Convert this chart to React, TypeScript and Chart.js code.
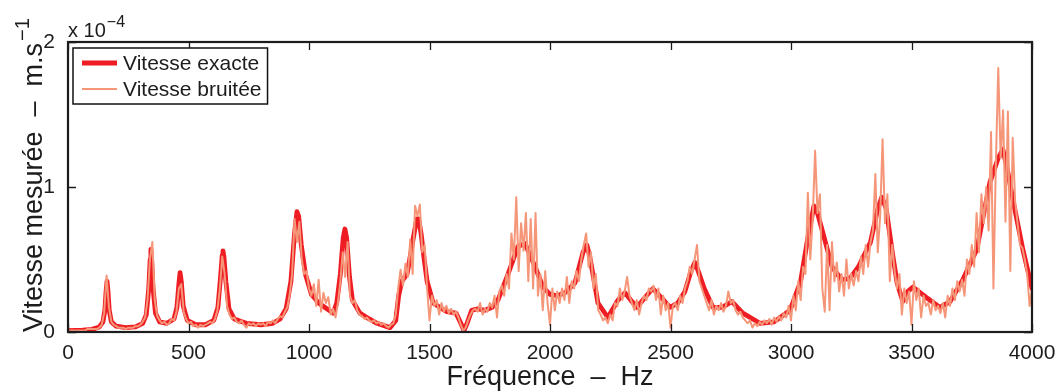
import React, { useEffect, useRef } from "react";
import { Chart, registerables } from "chart.js";

Chart.register(...registerables);

const FONT = "'Liberation Sans', Arial, Helvetica, sans-serif";
const TEXT_COLOR = "#1c1c1c";
const AXIS_COLOR = "#1c1c1c";

// Values are in units of 1e-4 m.s^-1 (axis shows "x 10^-4")
const seriesNames = ["Vitesse exacte", "Vitesse bruitée"];
const seriesColors = ["#EE1D23", "#F69679"];

const exactFreq = [
  0, 60, 100, 130, 145, 153, 158, 162, 166, 171, 180, 200, 240, 280, 310, 325, 335, 341, 344, 347,
  353, 363, 380, 410, 440, 452, 460, 465, 470, 478, 495, 530, 570, 605, 622, 633, 640, 643, 647, 655,
  668, 690, 740, 800, 850, 880, 905, 925, 940, 950, 957, 968, 985, 1010, 1040, 1074, 1100, 1115, 1130, 1142,
  1149, 1156, 1168, 1180, 1211, 1250, 1282, 1336, 1360, 1372, 1385, 1407, 1420, 1432, 1447, 1455, 1465, 1478, 1490, 1515,
  1572, 1610, 1630, 1643, 1656, 1675, 1700, 1730, 1760, 1784, 1826, 1867, 1896, 1920, 1938, 1971, 2000, 2030, 2062, 2104,
  2137, 2153, 2165, 2180, 2199, 2240, 2282, 2311, 2335, 2361, 2400, 2427, 2460, 2498, 2530, 2560, 2585, 2601, 2615, 2640,
  2676, 2715, 2755, 2800, 2871, 2930, 2996, 3040, 3070, 3095, 3110, 3133, 3170, 3210, 3245, 3280, 3330, 3360, 3377, 3395,
  3423, 3440, 3464, 3485, 3506, 3560, 3618, 3660, 3713, 3771, 3825, 3860, 3879, 3900, 3921, 3962, 4000,
];
const exactVel = [
  0.01, 0.012, 0.018, 0.035, 0.07, 0.15, 0.28, 0.35, 0.28, 0.15, 0.07, 0.04, 0.03, 0.035, 0.06, 0.12, 0.3, 0.5, 0.57, 0.5,
  0.3, 0.13, 0.07, 0.06, 0.09, 0.17, 0.33, 0.41, 0.35, 0.18, 0.08, 0.05, 0.05, 0.08, 0.17, 0.38, 0.53, 0.56, 0.52, 0.35,
  0.16, 0.09, 0.06, 0.05, 0.06, 0.09, 0.16, 0.35, 0.68, 0.83, 0.8, 0.6, 0.4, 0.26, 0.2, 0.16, 0.13, 0.2, 0.4, 0.65,
  0.71, 0.65, 0.38, 0.22, 0.13, 0.09, 0.06, 0.03, 0.08, 0.25, 0.35, 0.4, 0.52, 0.64, 0.78, 0.78, 0.68, 0.5, 0.35, 0.2,
  0.14, 0.13, 0.06, 0.01, 0.06, 0.15, 0.16, 0.15, 0.17, 0.22, 0.4, 0.59, 0.61, 0.52, 0.45, 0.31, 0.26, 0.25, 0.27, 0.34,
  0.55, 0.6, 0.52, 0.38, 0.2, 0.1, 0.22, 0.27, 0.22, 0.17, 0.25, 0.3, 0.24, 0.17, 0.2, 0.28, 0.42, 0.48, 0.42, 0.3,
  0.17, 0.17, 0.21, 0.13, 0.06, 0.07, 0.15, 0.35, 0.65, 0.87, 0.82, 0.68, 0.45, 0.36, 0.37, 0.45, 0.62, 0.85, 0.93, 0.85,
  0.52, 0.34, 0.21, 0.28, 0.31, 0.24, 0.17, 0.21, 0.36, 0.57, 1.03, 1.2, 1.26, 1.1, 0.91, 0.57, 0.3,
];

// Noisy measurement sampled every 10 Hz from 0 to 4000 Hz
const noisyStep = 10;
const noisyVel = [
  0.01, 0.01, 0.01, 0.01, 0.01, 0.01, 0.01, 0.01, 0.02, 0.02,
  0.02, 0.02, 0.02, 0.03, 0.05, 0.13, 0.39, 0.17, 0.07, 0.05,
  0.04, 0.03, 0.03, 0.03, 0.02, 0.03, 0.03, 0.03, 0.04, 0.04,
  0.05, 0.07, 0.1, 0.22, 0.5, 0.62, 0.22, 0.11, 0.08, 0.06,
  0.07, 0.05, 0.06, 0.09, 0.08, 0.14, 0.3, 0.33, 0.14, 0.09,
  0.06, 0.07, 0.04, 0.05, 0.03, 0.05, 0.04, 0.05, 0.06, 0.07,
  0.06, 0.09, 0.15, 0.3, 0.52, 0.4, 0.18, 0.12, 0.09, 0.1,
  0.07, 0.06, 0.08, 0.05, 0.03, 0.06, 0.05, 0.06, 0.04, 0.06,
  0.05, 0.06, 0.04, 0.07, 0.06, 0.08, 0.06, 0.09, 0.11, 0.1,
  0.14, 0.17, 0.26, 0.4, 0.78, 0.62, 0.76, 0.5, 0.4, 0.42,
  0.3, 0.25, 0.33, 0.18, 0.36, 0.14, 0.27, 0.2, 0.24, 0.12,
  0.16, 0.1, 0.2, 0.35, 0.55, 0.38, 0.62, 0.25, 0.2, 0.22,
  0.15, 0.12, 0.11, 0.09, 0.1, 0.08, 0.07, 0.08, 0.06, 0.07,
  0.05, 0.06, 0.04, 0.03, 0.05, 0.06, 0.12, 0.3, 0.43, 0.32,
  0.47, 0.38, 0.64, 0.4, 0.87, 0.8, 0.88, 0.55, 0.6, 0.3,
  0.08, 0.25, 0.18, 0.22, 0.12, 0.2, 0.14, 0.18, 0.13, 0.16,
  0.12, 0.14, 0.1, 0.05, 0.01, 0.03, 0.08, 0.12, 0.15, 0.16,
  0.14, 0.2, 0.12, 0.16, 0.14, 0.2, 0.17, 0.25, 0.1, 0.28,
  0.32, 0.25, 0.4, 0.3, 0.68, 0.5, 0.93, 0.42, 0.75, 0.56,
  0.82, 0.35, 0.78, 0.3, 0.82, 0.25, 0.4, 0.15, 0.42, 0.2,
  0.05, 0.3, 0.15, 0.28, 0.2, 0.3, 0.22, 0.38, 0.2, 0.35,
  0.3, 0.42, 0.35, 0.5, 0.6, 0.68, 0.45, 0.55, 0.3, 0.4,
  0.15, 0.12, 0.08, 0.1, 0.06, 0.12, 0.08, 0.2, 0.18, 0.3,
  0.22, 0.28, 0.38, 0.25, 0.2, 0.15, 0.22, 0.12, 0.2, 0.25,
  0.22, 0.3, 0.28, 0.32, 0.22, 0.3, 0.12, 0.25, 0.15, 0.2,
  0.03, 0.18, 0.2, 0.15, 0.25, 0.2, 0.3, 0.35, 0.45, 0.4,
  0.5, 0.6, 0.35, 0.3, 0.25, 0.2, 0.15, 0.22, 0.12, 0.18,
  0.15, 0.2, 0.14, 0.18, 0.28, 0.2, 0.22, 0.15, 0.12, 0.14,
  0.1, 0.08, 0.06, 0.08, 0.03, 0.06, 0.04, 0.07, 0.05, 0.08,
  0.06, 0.09, 0.05, 0.1, 0.07, 0.11, 0.08, 0.13, 0.1, 0.18,
  0.08, 0.25, 0.15, 0.35, 0.22, 0.45, 0.4, 0.96, 0.5, 0.78,
  1.25, 0.82, 0.95, 0.3, 0.14, 0.6, 0.15, 0.62, 0.35, 0.48,
  0.28, 0.4, 0.25, 0.5, 0.3, 0.4, 0.32, 0.42, 0.35, 0.52,
  0.4, 0.6, 0.45, 0.62, 0.7, 1.09, 0.55, 0.8, 1.33, 0.75,
  0.95, 0.35, 0.6, 0.42, 0.3, 0.4, 0.12, 0.3, 0.2, 0.28,
  0.05, 0.35, 0.22, 0.3, 0.1, 0.25, 0.18, 0.2, 0.12, 0.22,
  0.15, 0.18, 0.13, 0.2, 0.1, 0.25, 0.18, 0.3, 0.22, 0.35,
  0.28, 0.36, 0.25, 0.5, 0.4, 0.6, 0.45, 0.82, 0.55, 0.95,
  0.75, 1.0, 0.7, 1.38, 0.3, 1.15, 1.82, 1.2, 1.53, 0.76,
  1.52, 0.42, 1.34, 0.9, 0.75, 0.6, 0.58, 0.5, 0.4, 0.18,
  0.3,
];

const xMin = 0;
const xMax = 4000;
const xStep = 500;
const yMin = 0;
const yMax = 2;
const yStep = 1;

const xTitle = "Fréquence  –  Hz";
const yTitle = "Vitesse mesurée  –  m.s";
const yTitleExp = "−1";
const yScaleBase = "x 10";
const yScaleExp = "−4";

const frameAndTicks = {
  id: "frameAndTicks",
  afterDatasetsDraw(chart: any) {
    const { ctx, chartArea: a, scales } = chart;
    ctx.save();
    ctx.strokeStyle = AXIS_COLOR;
    ctx.lineWidth = 1.3;
    const tl = 8;
    ctx.beginPath();
    scales.x.ticks.forEach((t: any) => {
      const px = Math.round(scales.x.getPixelForValue(t.value)) + 0.5;
      ctx.moveTo(px, a.bottom);
      ctx.lineTo(px, a.bottom - tl);
      ctx.moveTo(px, a.top);
      ctx.lineTo(px, a.top + tl);
    });
    scales.y.ticks.forEach((t: any) => {
      const py = Math.round(scales.y.getPixelForValue(t.value)) + 0.5;
      ctx.moveTo(a.left, py);
      ctx.lineTo(a.left + tl, py);
      ctx.moveTo(a.right, py);
      ctx.lineTo(a.right - tl, py);
    });
    ctx.stroke();
    ctx.lineWidth = 2.2;
    ctx.strokeRect(a.left, a.top, a.right - a.left, a.bottom - a.top);
    ctx.restore();
  },
};

const boxLegend = {
  id: "boxLegend",
  afterDraw(chart: any) {
    const { ctx, chartArea: a } = chart;
    const ds = chart.data.datasets;
    ctx.save();
    ctx.font = `21px ${FONT}`;
    const left = a.left + 5;
    const top = a.top + 6;
    const lineX0 = left + 9;
    const lineX1 = left + 44;
    const textX = left + 50;
    let maxW = 0;
    ds.forEach((d: any) => {
      maxW = Math.max(maxW, ctx.measureText(d.label).width);
    });
    const w = textX - left + maxW + 6;
    const h = 56;
    ctx.fillStyle = "#ffffff";
    ctx.fillRect(left, top, w, h);
    ctx.strokeStyle = "#111";
    ctx.lineWidth = 1.5;
    ctx.strokeRect(left, top, w, h);
    ds.forEach((d: any, i: number) => {
      const y = top + 15 + i * 26;
      ctx.strokeStyle = d.borderColor;
      ctx.lineWidth = i === 0 ? 5 : 2.2;
      ctx.beginPath();
      ctx.moveTo(lineX0, y);
      ctx.lineTo(lineX1, y);
      ctx.stroke();
      ctx.fillStyle = TEXT_COLOR;
      ctx.textBaseline = "middle";
      ctx.textAlign = "left";
      ctx.fillText(d.label, textX, y + 1);
    });
    ctx.restore();
  },
};

const axisTexts = {
  id: "axisTexts",
  afterDraw(chart: any) {
    const { ctx, chartArea: a } = chart;
    ctx.save();
    ctx.fillStyle = TEXT_COLOR;
    ctx.textBaseline = "alphabetic";
    ctx.textAlign = "left";
    // exponent above y axis
    ctx.font = `20px ${FONT}`;
    ctx.fillText(yScaleBase, a.left, a.top - 5);
    const bw = ctx.measureText(yScaleBase).width;
    ctx.font = `16px ${FONT}`;
    ctx.fillText(yScaleExp, a.left + bw + 1, a.top - 15);
    // rotated y title
    ctx.translate(42, a.bottom);
    ctx.rotate(-Math.PI / 2);
    ctx.font = `27px ${FONT}`;
    ctx.fillText(yTitle, 0, 0);
    const tw = ctx.measureText(yTitle).width;
    ctx.font = `20px ${FONT}`;
    ctx.fillText(yTitleExp, tw + 2, -13);
    ctx.restore();
  },
};

export default function App() {
  const ref = useRef<HTMLCanvasElement | null>(null);
  useEffect(() => {
    if (!ref.current) return;
    const chart = new Chart(ref.current, {
      type: "line",
      data: {
        datasets: [
          {
            label: seriesNames[0],
            data: exactFreq.map((f, i) => ({ x: f, y: exactVel[i] })),
            borderColor: seriesColors[0],
            backgroundColor: seriesColors[0],
            borderWidth: 4.8,
            pointRadius: 0,
            tension: 0,
            borderJoinStyle: "round",
            borderCapStyle: "round",
            order: 1,
          },
          {
            label: seriesNames[1],
            data: noisyVel.map((v, i) => ({ x: i * noisyStep, y: v })),
            borderColor: seriesColors[1],
            backgroundColor: seriesColors[1],
            borderWidth: 2,
            pointRadius: 0,
            tension: 0,
            borderJoinStyle: "round",
            order: 0,
          },
        ],
      },
      options: {
        animation: false,
        responsive: false,
        events: [],
        layout: { padding: { left: 0, top: 42, right: 28, bottom: 0 } },
        plugins: {
          legend: { display: false },
          tooltip: { enabled: false },
        },
        scales: {
          x: {
            type: "linear",
            min: xMin,
            max: xMax,
            grid: { display: false },
            border: { display: false },
            ticks: {
              stepSize: xStep,
              color: TEXT_COLOR,
              font: { family: FONT, size: 21 },
              padding: 1,
              maxRotation: 0,
              callback: (v: any) => String(v),
            },
            title: {
              display: true,
              text: xTitle,
              color: TEXT_COLOR,
              font: { family: FONT, size: 27, lineHeight: 1.0 },
              padding: { top: 0, bottom: 1 },
            },
            afterFit: (s: any) => {
              s.height = 60;
            },
          },
          y: {
            type: "linear",
            min: yMin,
            max: yMax,
            grid: { display: false },
            border: { display: false },
            ticks: {
              stepSize: yStep,
              color: TEXT_COLOR,
              font: { family: FONT, size: 21 },
              padding: 5,
              callback: (v: any) => String(v),
            },
            afterFit: (s: any) => {
              s.width = 68;
            },
          },
        },
      },
      plugins: [frameAndTicks, boxLegend, axisTexts],
    });
    return () => chart.destroy();
  }, []);
  return (
    <div style={{ position: "absolute", left: 0, top: 0, width: 1060, height: 392, background: "#fff" }}>
      <canvas ref={ref} width={1060} height={392} style={{ display: "block" }} />
    </div>
  );
}
